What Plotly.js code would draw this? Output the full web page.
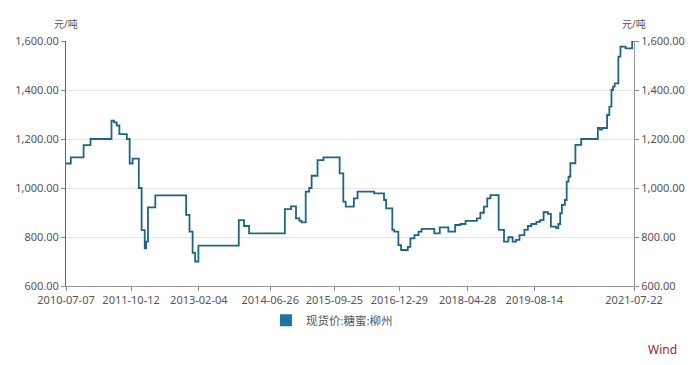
<!DOCTYPE html>
<html>
<head>
<meta charset="utf-8">
<script src="https://cdn.plot.ly/plotly-3.0.1.min.js"></script>
<style>
  html, body { margin: 0; padding: 0; background: #ffffff; }
  #chart { width: 700px; height: 365px; }
</style>
</head>
<body>
<div id="chart"></div>
<script>
// Spot price: molasses, Liuzhou (元/吨) — step series
const dates = [
  "2010-07-07","2010-08-10","2010-11-09","2010-12-28","2011-05-26","2011-06-13","2011-07-02",
  "2011-07-21","2011-09-12","2011-10-02","2011-10-23","2011-12-06","2011-12-26","2012-01-17",
  "2012-01-27","2012-02-09","2012-04-01","2012-11-06","2012-11-30","2012-12-22","2013-01-09",
  "2013-02-01","2013-11-15","2013-12-22","2014-01-27","2014-10-08","2014-11-21","2014-12-26",
  "2015-01-19","2015-02-04","2015-03-05","2015-03-30","2015-04-16","2015-05-28","2015-07-09",
  "2015-11-01","2015-11-27","2015-12-14","2016-02-10","2016-03-07","2016-07-03","2016-09-11",
  "2016-09-26","2016-11-09","2016-11-22","2016-12-22","2017-01-10","2017-02-27","2017-03-17",
  "2017-04-15","2017-05-14","2017-06-05","2017-09-03","2017-10-12","2017-12-12","2018-01-29",
  "2018-03-08","2018-04-13","2018-07-02","2018-07-27","2018-08-21","2018-09-14","2018-10-07",
  "2018-12-04","2019-01-11","2019-02-11","2019-03-13","2019-04-06","2019-05-01","2019-06-05",
  "2019-06-29","2019-07-24","2019-08-29","2019-09-24","2019-10-19","2019-11-19","2019-12-10",
  "2020-01-16","2020-02-01","2020-02-14","2020-02-26","2020-03-18","2020-03-31","2020-04-13",
  "2020-04-26","2020-06-01","2020-07-12","2020-11-07","2020-11-22","2020-12-07","2021-01-12",
  "2021-01-28","2021-02-12","2021-02-23","2021-03-07","2021-04-02","2021-04-17","2021-05-23",
  "2021-07-09","2021-07-22"
];
const prices = [
  1100,1125,1175,1200,1275,1268,1255,
  1220,1200,1100,1120,1000,828,754,
  781,921,970,890,822,735,700,
  765,869,845,815,914,925,876,
  866,860,985,1000,1050,1114,1125,
  1060,944,924,958,985,978,951,
  917,829,822,767,747,760,794,
  808,822,833,815,839,822,849,
  853,866,876,899,924,958,971,
  829,781,799,781,788,808,829,
  845,853,862,869,901,894,842,
  836,853,897,931,951,1026,1046,
  1101,1176,1200,1245,1238,1245,1298,
  1332,1400,1414,1427,1536,1577,1570,
  1600,1600
];
const seriesName = "现货价:糖蜜:柳州";
const unitLabel = "元/吨";
const tickDates = ["2010-07-07","2011-10-12","2013-02-04","2014-06-26","2015-09-25",
                   "2016-12-29","2018-04-28","2019-08-14","2021-07-22"];
const yTicks = [600, 800, 1000, 1200, 1400, 1600];

const lineColor = "#1e6488";
const swatchColor = "#2272a3";
const textColor = "#555555";
const fontFam = "'Noto Sans', 'Noto Sans CJK SC', sans-serif";

const traces = [
  {
    type: "scatter", mode: "lines", x: dates, y: prices,
    line: { color: lineColor, width: 1.8, shape: "hv" },
    showlegend: false, hoverinfo: "skip"
  },
  {
    type: "bar", x: [null], y: [null], yaxis: "y2",
    name: seriesName, marker: { color: swatchColor }, showlegend: true
  }
];

const yCommon = {
  range: [600, 1600], tickvals: yTicks, tickformat: ",.2f",
  ticks: "outside", ticklen: 4, tickcolor: "#888",
  tickfont: { size: 11, color: textColor, family: fontFam },
  showline: true, linewidth: 1, zeroline: false, fixedrange: true
};

const layout = {
  width: 700, height: 365,
  margin: { l: 66, r: 66, t: 41, b: 79 },
  paper_bgcolor: "#ffffff", plot_bgcolor: "#ffffff",
  font: { family: fontFam, color: textColor, size: 11 },
  showlegend: true,
  legend: {
    orientation: "h", x: 0.352, xanchor: "left", y: -0.14, yanchor: "middle",
    font: { size: 11.5, color: textColor, family: fontFam },
    bgcolor: "rgba(0,0,0,0)"
  },
  xaxis: {
    type: "date", range: ["2010-07-07", "2021-07-22"],
    tickvals: tickDates, tickformat: "%Y-%m-%d",
    ticks: "outside", ticklen: 4, tickcolor: "#888",
    tickfont: { size: 11, color: textColor, family: fontFam },
    showline: true, linecolor: "#999", linewidth: 1,
    showgrid: false, zeroline: false, fixedrange: true
  },
  yaxis: Object.assign({}, yCommon, {
    side: "left", linecolor: "#666",
    showgrid: true, gridcolor: "#e3e3e3", gridwidth: 1
  }),
  yaxis2: Object.assign({}, yCommon, {
    side: "right", overlaying: "y", linecolor: "#999", showgrid: false
  }),
  annotations: [
    { text: unitLabel, xref: "paper", yref: "paper", x: 0, y: 1.069,
      xanchor: "center", yanchor: "middle", showarrow: false,
      font: { size: 10, color: textColor, family: fontFam } },
    { text: unitLabel, xref: "paper", yref: "paper", x: 1.0, y: 1.069,
      xanchor: "center", yanchor: "middle", showarrow: false,
      font: { size: 10, color: textColor, family: fontFam } },
    { text: "Wind", xref: "paper", yref: "paper", x: 1.051, y: -0.261,
      xanchor: "center", yanchor: "middle", showarrow: false,
      font: { size: 12, color: "#a3262c", family: fontFam } }
  ]
};

Plotly.newPlot("chart", traces, layout, { displayModeBar: false, staticPlot: true });
</script>
</body>
</html>
